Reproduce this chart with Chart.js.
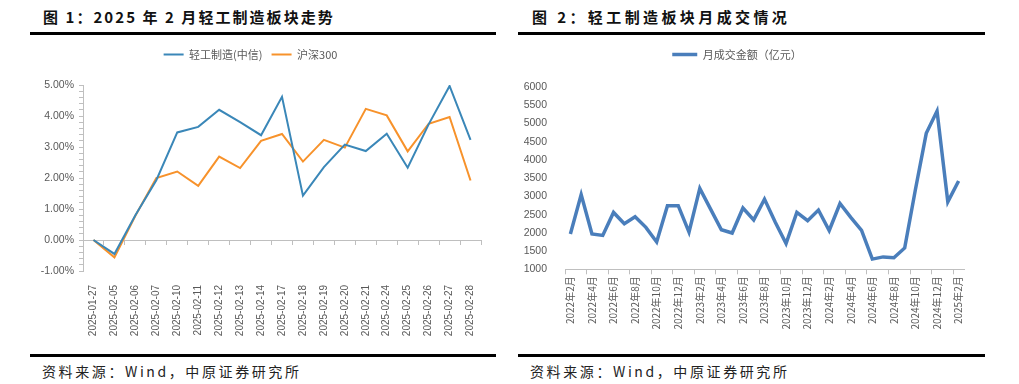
<!DOCTYPE html>
<html>
<head>
<meta charset="utf-8">
<script src="https://cdn.jsdelivr.net/npm/chart.js@4"></script>
<style>
  body { margin: 0; background: #fff; width: 1019px; height: 384px; position: relative; overflow: hidden;
         font-family: "Noto Sans CJK SC", "Liberation Sans", sans-serif; }
  .title { position: absolute; top: 6px; font-size: 15px; font-weight: bold; color: #111; white-space: nowrap; line-height: 22px; }
  .rule { position: absolute; height: 3px; background: #000; }
  .source { position: absolute; top: 361px; font-size: 14px; color: #222; white-space: nowrap; line-height: 20px; letter-spacing: 2.6px; }
  .box { position: absolute; top: 40px; height: 305px; }
  canvas { display: block; }
</style>
</head>
<body>
<div class="title" style="left:43px; letter-spacing:2.05px">图 1：2025 年 2 月轻工制造板块走势</div>
<div class="rule" style="left:30px; width:466px; top:32px"></div>
<div class="title" style="left:532px; letter-spacing:3.4px">图 2：轻工制造板块月成交情况</div>
<div class="rule" style="left:518px; width:467px; top:32px"></div>

<div class="box" style="left:20px; width:480px"><canvas id="chart1" width="480" height="305"></canvas></div>
<div class="box" style="left:510px; width:509px"><canvas id="chart2" width="509" height="305"></canvas></div>

<div class="rule" style="left:30px; width:466px; top:354px"></div>
<div class="rule" style="left:518px; width:467px; top:354px"></div>
<div class="source" style="left:42px">资料来源：Wind，中原证券研究所</div>
<div class="source" style="left:530px">资料来源：Wind，中原证券研究所</div>

<script>
var days = ['2025-01-27', '2025-02-05', '2025-02-06', '2025-02-07', '2025-02-10', '2025-02-11',
    '2025-02-12', '2025-02-13', '2025-02-14', '2025-02-17', '2025-02-18', '2025-02-19',
    '2025-02-20', '2025-02-21', '2025-02-24', '2025-02-25', '2025-02-26', '2025-02-27', '2025-02-28']
var lightIndustry = [0, -0.45, 0.8, 1.93, 3.47, 3.65, 4.2, 3.8, 3.38, 4.62, 1.43, 2.35, 3.08, 2.87, 3.43, 2.33, 3.73, 4.97, 3.23]
var csi300 = [0, -0.56, 0.78, 2.0, 2.21, 1.75, 2.69, 2.32, 3.2, 3.42, 2.53, 3.23, 2.98, 4.23, 4.02, 2.86, 3.75, 3.97, 1.92]

var months = ['2022年2月', '2022年3月', '2022年4月', '2022年5月', '2022年6月', '2022年7月', '2022年8月',
    '2022年9月', '2022年10月', '2022年11月', '2022年12月',
    '2023年1月', '2023年2月', '2023年3月', '2023年4月', '2023年5月', '2023年6月', '2023年7月',
    '2023年8月', '2023年9月', '2023年10月', '2023年11月', '2023年12月',
    '2024年1月', '2024年2月', '2024年3月', '2024年4月', '2024年5月', '2024年6月', '2024年7月',
    '2024年8月', '2024年9月', '2024年10月', '2024年11月', '2024年12月',
    '2025年1月', '2025年2月']
var turnover = [1970, 3050, 1970, 1930, 2560, 2250, 2440, 2150, 1750, 2745, 2745,
    2020, 3220, 2650, 2085, 1995, 2680, 2355, 2925, 2290, 1705, 2560, 2335,
    2625, 2065, 2805, 2425, 2065, 1280, 1340, 1315, 1585, 3195, 4730, 5340,
    2850, 3420]

var grey = '#595959'
var axisGrey = '#bfbfbf'
var tickFont = { family: 'Liberation Sans', size: 10 }

// leave extra room under the legend, like the Excel originals
function legendGap(extra) {
    return {
        id: 'legendGap',
        beforeInit: function(chart) {
            var fit = chart.legend.fit
            chart.legend.fit = function() {
                fit.call(this)
                this.height += extra
            }
        }
    }
}

new Chart(document.getElementById('chart1'), {
    type: 'line',
    data: {
        datasets: [
            { label: '轻工制造(中信)', data: lightIndustry, borderColor: '#3a87b8', backgroundColor: '#3a87b8',
              borderWidth: 2, pointRadius: 0, tension: 0 },
            { label: '沪深300', data: csi300, borderColor: '#f7922b', backgroundColor: '#f7922b',
              borderWidth: 2, pointRadius: 0, tension: 0 }
        ]
    },
    plugins: [legendGap(15)],
    options: {
        responsive: false,
        animation: false,
        maintainAspectRatio: false,
        layout: { padding: { left: 0, right: 19, top: 0, bottom: 0 } },
        plugins: {
            legend: {
                labels: {
                    usePointStyle: true, pointStyle: 'line', pointStyleWidth: 20,
                    color: grey, font: { family: 'Noto Sans CJK SC', size: 11 }, padding: 9
                }
            },
            tooltip: { enabled: false }
        },
        scales: {
            x: {
                type: 'category', labels: days, offset: true,
                position: { y: 0 },
                grid: { drawOnChartArea: false, offset: true, tickLength: 4, color: axisGrey },
                border: { color: axisGrey },
                ticks: { display: false }
            },
            x2: {
                type: 'category', labels: days, offset: true, position: 'bottom',
                grid: { display: false }, border: { display: false },
                ticks: { autoSkip: false, minRotation: 90, maxRotation: 90, color: grey, font: tickFont, padding: 6 },
                afterFit: function(s) { s.height = 74 }
            },
            y: {
                min: -1, max: 5,
                grid: { drawOnChartArea: false, tickLength: 4, color: axisGrey },
                border: { color: axisGrey },
                ticks: {
                    stepSize: 0.2, autoSkip: false, color: grey, font: { family: 'Liberation Sans', size: 10.5 }, padding: 5,
                    callback: function(v) {
                        var r = Math.round(v * 10) / 10
                        return Number.isInteger(r) ? r.toFixed(2) + '%' : ''
                    }
                },
                afterFit: function(s) { s.width = 63 }
            }
        }
    }
})

new Chart(document.getElementById('chart2'), {
    type: 'line',
    data: {
        labels: months,
        datasets: [
            { label: '月成交金额（亿元）', data: turnover, borderColor: '#4a7ebb', backgroundColor: '#4a7ebb',
              borderWidth: 3.5, pointRadius: 0, tension: 0 }
        ]
    },
    plugins: [legendGap(17)],
    options: {
        responsive: false,
        animation: false,
        maintainAspectRatio: false,
        layout: { padding: { left: 0, right: 55, top: 0, bottom: 0 } },
        plugins: {
            legend: {
                labels: {
                    usePointStyle: true, pointStyle: 'line', pointStyleWidth: 25,
                    color: grey, font: { family: 'Noto Sans CJK SC', size: 11 }, padding: 9
                }
            },
            tooltip: { enabled: false }
        },
        scales: {
            x: {
                offset: true,
                grid: {
                    drawOnChartArea: false, offset: true, tickLength: 5,
                    tickColor: function(ctx) { return ctx.index % 2 === 0 ? axisGrey : 'rgba(0,0,0,0)' },
                    color: axisGrey
                },
                border: { color: axisGrey },
                ticks: {
                    autoSkip: false, minRotation: 90, maxRotation: 90, color: grey,
                    font: { family: 'Noto Sans CJK SC', size: 10 }, padding: 2,
                    callback: function(v, i) { return i % 2 === 0 ? this.getLabelForValue(v) : '' }
                },
                afterFit: function(s) { s.height = 75.7 }
            },
            y: {
                min: 1000, max: 6000,
                grid: { display: false },
                border: { display: false },
                ticks: {
                    stepSize: 500, autoSkip: false, color: grey, font: { family: 'Liberation Sans', size: 10.5 }, padding: 10,
                    callback: function(v) { return String(v) }
                },
                afterFit: function(s) { s.width = 55 }
            }
        }
    }
})
</script>
</body>
</html>
